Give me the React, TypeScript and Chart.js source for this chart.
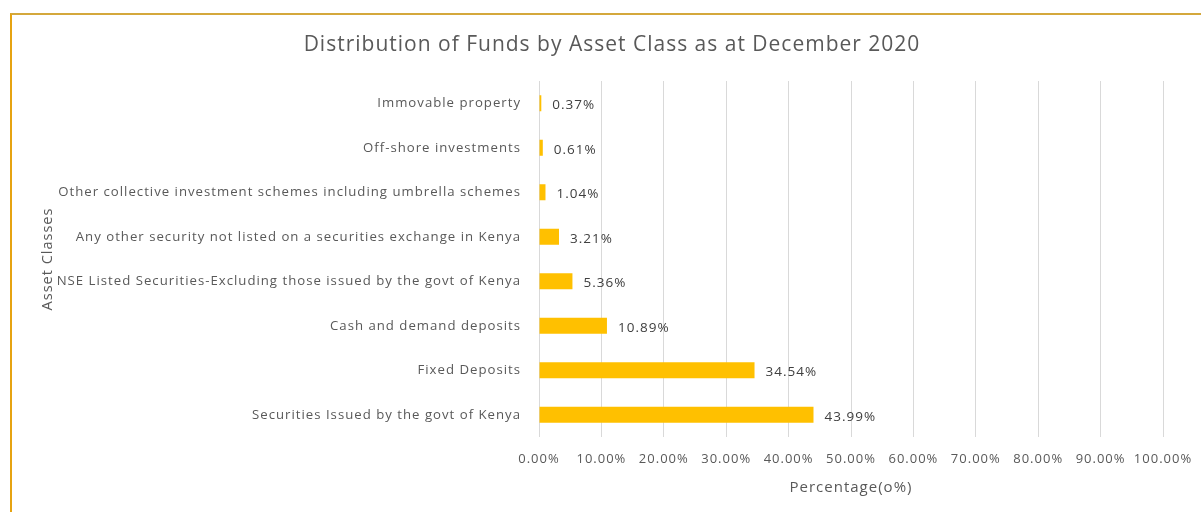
import React, { useEffect, useRef } from "react";
import { Chart, registerables } from "chart.js";

Chart.register(...registerables);

const title = "Distribution of Funds by Asset Class as at December 2020";
const categories = [
  "Immovable property",
  "Off-shore investments",
  "Other collective investment schemes including umbrella schemes",
  "Any other security not listed on a securities exchange in Kenya",
  "NSE Listed Securities-Excluding those issued by the govt of Kenya",
  "Cash and demand deposits",
  "Fixed Deposits",
  "Securities Issued by the govt of Kenya",
];
const values = [0.37, 0.61, 1.04, 3.21, 5.36, 10.89, 34.54, 43.99];
const xTicks = [0, 10, 20, 30, 40, 50, 60, 70, 80, 90, 100];

const FONT = "'Open Sans', sans-serif";
const GRAY = "#595959";

const spacingPlugin = {
  id: "letterSpacing",
  beforeUpdate(chart: any) {
    chart.ctx.letterSpacing = "1px";
  },
  beforeDraw(chart: any) {
    chart.ctx.letterSpacing = "1px";
  },
};

const labelPlugin = {
  id: "barLabels",
  afterDatasetsDraw(chart: any) {
    const ctx = chart.ctx;
    const meta = chart.getDatasetMeta(0);
    ctx.save();
    ctx.font = `13.5px ${FONT}`;
    ctx.fillStyle = "#404040";
    ctx.textAlign = "left";
    ctx.textBaseline = "middle";
    meta.data.forEach((bar: any, i: number) => {
      ctx.fillText(values[i].toFixed(2) + "%", bar.x + 11, bar.y + 2);
    });
    ctx.restore();
  },
  afterDraw(chart: any) {
    const ctx = chart.ctx;
    ctx.save();
    ctx.font = `21px ${FONT}`;
    ctx.fillStyle = GRAY;
    ctx.textAlign = "center";
    ctx.textBaseline = "middle";
    ctx.fillText(title, 612, 45);
    ctx.restore();
  },
};

export default function App() {
  const ref = useRef<HTMLCanvasElement>(null);
  useEffect(() => {
    document.body.style.margin = "0";
    const chart = new Chart(ref.current!, {
      type: "bar",
      data: {
        labels: categories,
        datasets: [
          {
            data: values,
            backgroundColor: "#FFC000",
            borderWidth: 0,
            barPercentage: 0.45,
            categoryPercentage: 0.8,
          },
        ],
      },
      options: {
        indexAxis: "y",
        animation: false,
        responsive: false,
        maintainAspectRatio: false,
        layout: { padding: { left: 34, right: 38, top: 81, bottom: 0 } },
        plugins: {
          legend: { display: false },
          tooltip: { enabled: false },
          title: { display: false },
        },
        scales: {
          x: {
            min: 0,
            max: 100,
            afterBuildTicks(scale: any) {
              scale.ticks = xTicks.map((v) => ({ value: v }));
            },
            afterFit(scale: any) {
              scale.height = 75;
              scale.paddingLeft = 0;
              scale.paddingRight = 0;
            },
            grid: { color: "#D9D9D9", drawTicks: false },
            border: { display: false },
            ticks: {
              color: GRAY,
              padding: 14,
              font: { family: FONT, size: 13 },
              maxRotation: 0,
              autoSkip: false,
              callback: (v: any) => Number(v).toFixed(2) + "%",
            },
            title: {
              display: true,
              text: "Percentage(o%)",
              color: GRAY,
              font: { family: FONT, size: 15 },
              padding: { top: 4, bottom: 15 },
            },
          },
          y: {
            afterFit(scale: any) {
              scale.width = 505;
            },
            grid: { display: false, drawTicks: false },
            border: { display: false },
            ticks: {
              color: GRAY,
              padding: 18,
              font: { family: FONT, size: 13.2 },
              autoSkip: false,
            },
            title: {
              display: true,
              text: "Asset Classes",
              color: GRAY,
              font: { family: FONT, size: 14.5 },
              padding: { top: 5, bottom: 4 },
            },
          },
        },
      },
      plugins: [spacingPlugin, labelPlugin],
    } as any);
    return () => chart.destroy();
  }, []);

  return (
    <div style={{ position: "relative", width: 1201, height: 512, overflow: "hidden", background: "#fff" }}>
      <div
        style={{
          position: "absolute",
          left: 10,
          top: 13,
          width: 1300,
          height: 600,
          borderTop: "2px solid #D4A83C",
          borderLeft: "2px solid #E6A311",
          boxSizing: "border-box",
        }}
      />
      <canvas ref={ref} width={1201} height={512} style={{ position: "absolute", left: 0, top: 0 }} />
    </div>
  );
}
